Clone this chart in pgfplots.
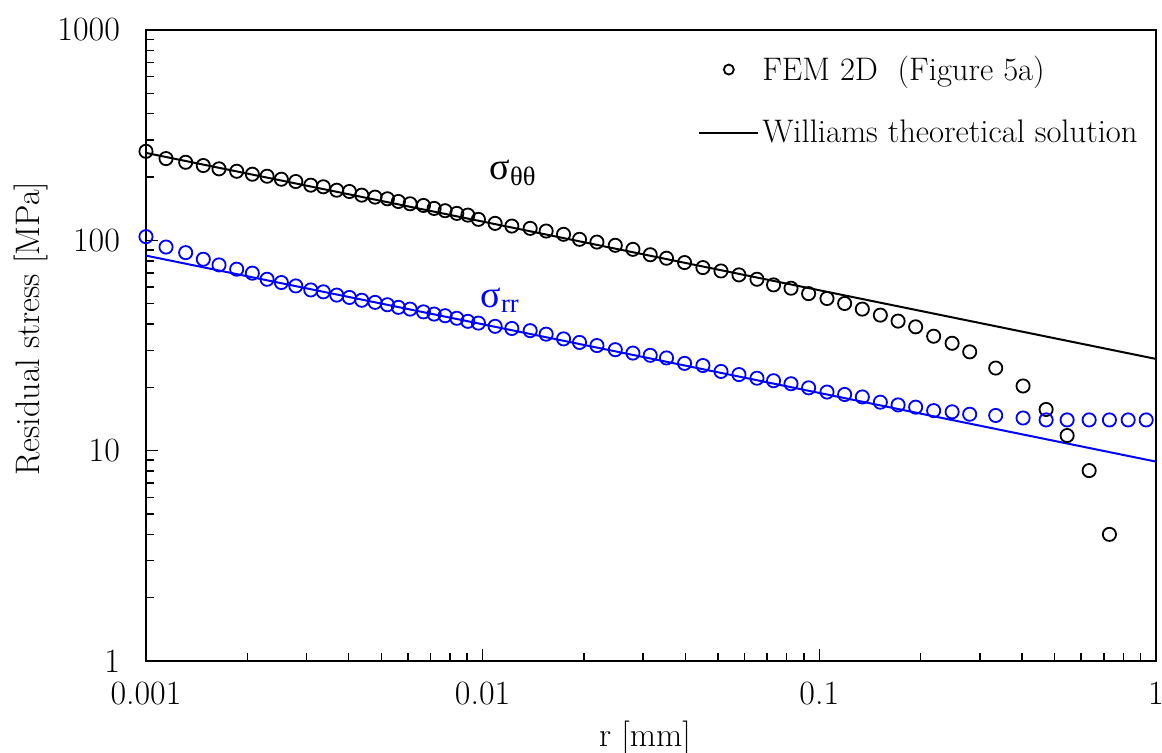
\documentclass[border=0pt]{standalone}
\usepackage{fontspec}
\newfontfamily\grk{Liberation Serif}
\usepackage{pgfplots}
\pgfplotsset{compat=1.18}
\definecolor{myblue}{RGB}{0,0,255}
\newcommand\fs{\fontsize{17}{20}\selectfont}
\newcommand\ls{\fontsize{16.3}{19.5}\selectfont}
\newcommand\gs{\fontsize{19}{22}\selectfont}
\pgfplotsset{
  legmark/.style={legend image code/.code={\draw[mark repeat=2, mark phase=2, ##1, mark size=2.5pt] plot coordinates {(0pt,0pt) (14.75pt,0pt) (29.5pt,0pt)};}},
  legline/.style={legend image code/.code={\draw[##1] (0pt,0pt) -- (29.5pt,0pt);}},
}

\pgfplotstableread{
r s
0.001 265.0
0.001147 244.7
0.001312 235.0
0.001480 226.8
0.001648 218.7
0.001860 213.0
0.002070 206.2
0.002289 201.7
0.002524 195.2
0.002786 190.4
0.003087 182.9
0.003364 179.7
0.003687 173.1
0.004020 170.7
0.004375 164.0
0.004791 160.5
0.005213 157.6
0.005621 153.0
0.006088 149.2
0.006671 146.5
0.007177 141.8
0.007737 138.3
0.008380 134.3
0.009036 131.8
0.009716 125.8
0.01089 120.4
0.01221 116.9
0.01384 114.0
0.01544 110.7
0.01739 106.8
0.01940 101.1
0.02185 98.1
0.02477 94.7
0.02795 90.6
0.03146 85.4
0.03517 82.2
0.03979 78.4
0.04511 74.2
0.05105 71.5
0.05772 68.5
0.06529 65.3
0.07313 61.4
0.08240 59.2
0.09294 55.8
0.1054 52.9
0.1189 50.1
0.1342 47.1
0.1518 44.1
0.1714 41.3
0.1933 38.8
0.2186 35.0
0.2480 32.4
0.2797 29.5
0.3342 24.7
0.4029 20.3
0.4717 15.7
0.5446 11.8
0.6332 8.04
0.7274 4.00
}\femtt

\pgfplotstableread{
r s
0.001 104.1
0.001147 92.9
0.001312 87.4
0.001480 81.3
0.001648 76.4
0.001860 72.9
0.002070 69.8
0.002289 65.3
0.002524 63.0
0.002786 60.7
0.003087 58.1
0.003364 56.9
0.003687 54.9
0.004020 53.5
0.004375 51.9
0.004791 50.7
0.005213 49.4
0.005621 48.0
0.006088 47.1
0.006671 45.7
0.007177 44.6
0.007737 43.8
0.008380 42.6
0.009036 41.2
0.009716 40.4
0.01089 39.0
0.01221 38.1
0.01384 37.2
0.01544 35.8
0.01739 34.0
0.01940 32.7
0.02185 31.6
0.02477 30.2
0.02795 29.1
0.03146 28.4
0.03517 27.6
0.03979 26.0
0.04511 25.4
0.05105 23.8
0.05772 23.0
0.06529 22.1
0.07313 21.5
0.08240 20.8
0.09294 19.9
0.1054 19.0
0.1189 18.5
0.1342 18.0
0.1518 17.0
0.1714 16.5
0.1933 16.1
0.2186 15.5
0.2480 15.3
0.2797 14.9
0.3342 14.7
0.4029 14.3
0.4717 14.0
0.5446 14.0
0.6332 14.0
0.7274 14.0
0.8268 14.0
0.9352 14.0
}\femrr

\begin{document}
\begin{tikzpicture}
\begin{axis}[
  xmode=log, ymode=log,
  scale only axis, width=505pt, height=315.5pt,
  xmin=0.001, xmax=1, ymin=1, ymax=1000,
  xtick={0.001,0.01,0.1,1}, xticklabels={0.001,0.01,0.1,1},
  ytick={1,10,100,1000}, yticklabels={1,10,100,1000},
  minor xtick={0.002,0.003,0.004,0.005,0.006,0.007,0.008,0.009,0.02,0.03,0.04,0.05,0.06,0.07,0.08,0.09,0.2,0.3,0.4,0.5,0.6,0.7,0.8,0.9},
  minor ytick={2,3,4,5,6,7,8,9,20,30,40,50,60,70,80,90,200,300,400,500,600,700,800,900},
  tick align=inside, tick pos=left,
  major tick length=6pt, minor tick length=4pt,
  every tick/.append style={black, line width=0.8pt},
  axis line style={line width=1pt},
  tick label style={font=\fs},
  yticklabel style={xshift=-9.5pt},
  xticklabel style={yshift=-7pt},
  xlabel={r [mm]}, ylabel={Residual stress [MPa]},
  label style={font=\fs},
  xlabel style={at={(axis description cs:0.494,0)}, anchor=north, yshift=-26.5pt},
  ylabel style={at={(axis description cs:-0.09,0.527)}, anchor=south},
  legend style={draw=none, fill=none, font=\ls, at={(axis description cs:0.5465,0.966)}, anchor=north west, inner sep=0pt, row sep=14.5pt, nodes={inner xsep=1.5pt}},
  legend cell align=left,
]
\addplot[only marks, black, mark=o, mark size=3.3pt, mark options={line width=0.9pt}, legmark]
  table[x=r, y=s] {\femtt};
\addlegendentry{FEM 2D\ \ (Figure 5a)}
\addplot[black, line width=1pt, no marks, legline]
  coordinates {(0.001,260.4) (1,27.3)};
\addlegendentry{Williams theoretical solution}
\addplot[forget plot, myblue, line width=1pt, no marks] coordinates {(0.001,84.6) (1,8.87)};
\addplot[forget plot, only marks, myblue, mark=o, mark size=3.3pt, mark options={line width=0.9pt}]
  table[x=r, y=s] {\femrr};
\node[black, font=\gs\grk] at (axis cs:0.01232,209) {σ\textsubscript{θθ}};
\node[myblue, font=\gs\grk] at (axis cs:0.01127,52.1) {σ\textsubscript{rr}};
\end{axis}
\pgfresetboundingbox
\path[use as bounding box] (-73pt,-46pt) rectangle (508pt,330.5pt);
\end{tikzpicture}
\end{document}
